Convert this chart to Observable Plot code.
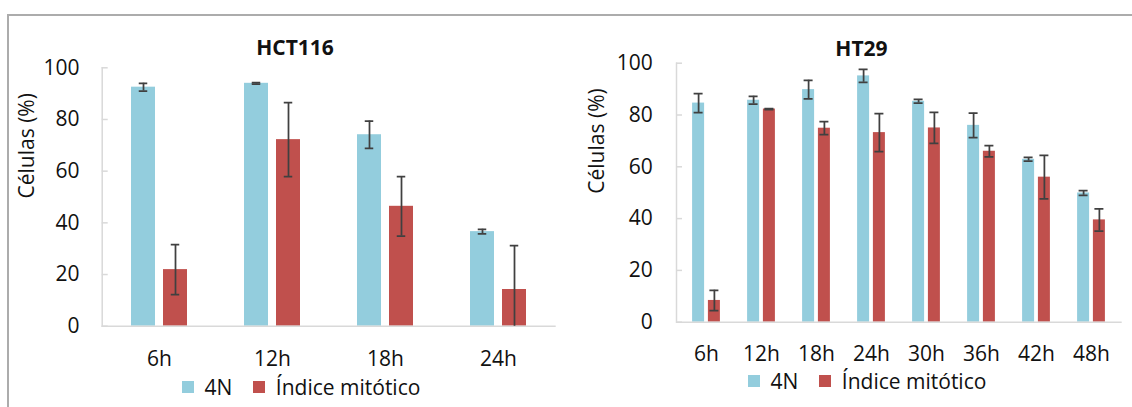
<!DOCTYPE html>
<html><head><meta charset="utf-8">
<script src="https://cdn.jsdelivr.net/npm/d3@7"></script>
<script src="https://cdn.jsdelivr.net/npm/@observablehq/plot@0.6"></script>
<style>
html,body{margin:0;padding:0;background:#fff;}
#wrap{position:relative;width:1132px;height:407px;overflow:hidden;font-family:"Open Sans",sans-serif;}
#border{position:absolute;left:7px;top:14px;width:1200px;height:500px;border-top:2px solid #acacac;border-left:2px solid #acacac;}
.panel{position:absolute;top:0;}
.legend{position:absolute;}
</style></head><body>
<div id="wrap"><div id="border"></div>
<div id="p1" class="panel" style="left:0px"></div>
<div id="p2" class="panel" style="left:566px"></div>
<div id="l1" class="legend" style="left:182px;top:370px"></div>
<div id="l2" class="legend" style="left:748px;top:364px"></div>
</div>
<script>
// ---- data ----
const series = ["4N", "Índice mitótico"];
const colors = ["#93cddd", "#c0504d"];
const yTicks = [0, 20, 40, 60, 80, 100];

const hctTimes = ["6h", "12h", "18h", "24h"];
const hct4N = [92.5, 94.0, 74.1, 36.6];
const hct4NErr = [1.5, 0.3, 5.3, 0.9];
const hctMit = [21.9, 72.2, 46.4, 14.2];
const hctMitErr = [9.7, 14.3, 11.5, 17.0];

const htTimes = ["6h", "12h", "18h", "24h", "30h", "36h", "42h", "48h"];
const ht4N = [84.6, 85.7, 89.8, 95.1, 85.3, 76.0, 62.9, 49.9];
const ht4NErr = [3.7, 1.5, 3.6, 2.5, 0.7, 4.7, 0.7, 0.9];
const htMit = [8.4, 82.3, 74.9, 73.2, 75.0, 66.0, 56.0, 39.5];
const htMitErr = [3.9, 0.2, 2.5, 7.3, 6.0, 2.2, 8.4, 4.3];

function rows(times, vals, errs, s) {
  return times.map((t, i) => ({time: t, series: s, value: vals[i], lo: vals[i] - errs[i], hi: vals[i] + errs[i]}));
}

function chart(o) {
  const r4 = rows(o.times, o.v4n, o.e4n, series[0]);
  const rm = rows(o.times, o.vmit, o.emit, series[1]);
  const plotW = o.width - o.mL - o.mR;
  const step = plotW / o.times.length;
  const pi = 1 - o.barW / step;
  const capInset = (o.barW - 9) / 2;
  const eb = (data, dx) => [
    Plot.ruleX(data, {x: "time", y1: "lo", y2: "hi", dx, stroke: "#404040", strokeWidth: 1.75, clip: true}),
    Plot.tickY(data, {x: "time", y: "hi", dx, insetLeft: capInset, insetRight: capInset, stroke: "#404040", strokeWidth: 1.75, clip: true}),
    Plot.tickY(data, {x: "time", y: "lo", dx, insetLeft: capInset, insetRight: capInset, stroke: "#404040", strokeWidth: 1.75, clip: true})
  ];
  return Plot.plot({
    width: o.width, height: 407,
    marginLeft: o.mL, marginRight: o.mR, marginTop: o.mT, marginBottom: o.mB,
    style: {fontFamily: '"Open Sans", sans-serif', fontSize: "21px", color: "#111", background: "transparent", overflow: "visible"},
    x: {domain: o.times, paddingInner: pi, paddingOuter: pi / 2, align: 0.5},
    y: {domain: [0, 100]},
    color: {domain: series, range: colors},
    marks: [
      Plot.barY(r4, {x: "time", y: "value", fill: "series", dx: -o.off}),
      Plot.barY(rm, {x: "time", y: "value", fill: "series", dx: o.off}),
      Plot.ruleY([0], {stroke: "#d9d9d9", strokeWidth: 1.5}),
      Plot.frame({anchor: "left", stroke: "#d9d9d9", strokeWidth: 1.5}),
      Plot.ruleY(yTicks, {stroke: "#d9d9d9", strokeWidth: 1.5, insetRight: plotW - 6}),
      ...eb(r4, -o.off),
      ...eb(rm, o.off),
      Plot.axisY({ticks: yTicks, tickSize: 0, tickPadding: o.yPad, fontSize: 21, label: null}),
      Plot.axisX({tickSize: 0, tickPadding: o.xPad, fontSize: 21, label: null}),
      Plot.text([o.title], {text: d => d, frameAnchor: "top", dx: o.tDx, dy: o.tDy, fontWeight: "bold", fontSize: 21, lineAnchor: "middle"}),
      Plot.text(["Células (%)"], {text: d => d, frameAnchor: "left", rotate: -90, dx: o.yDx, dy: o.yDy, fontSize: 21, lineAnchor: "middle"})
    ]
  });
}

document.getElementById("p1").append(chart({
  times: hctTimes, v4n: hct4N, e4n: hct4NErr, vmit: hctMit, emit: hctMitErr, title: "HCT116",
  width: 566, mL: 101.7, mR: 10.3, mT: 67.3, mB: 81.3, barW: 24.5, off: 16,
  yPad: 22.7, xPad: 25, tDx: -34.2, tDy: -19.3, yDx: -74.7, yDy: 1.5
}));
document.getElementById("p2").append(chart({
  times: htTimes, v4n: ht4N, e4n: ht4NErr, vmit: htMit, emit: htMitErr, title: "HT29",
  width: 566, mL: 110, mR: 10.3, mT: 62.7, mB: 85.3, barW: 12, off: 7.9,
  yPad: 23.7, xPad: 24, tDx: -37.9, tDy: -14.2, yDx: -79.2, yDy: 1
}));

const legendStyle = {fontFamily: '"Open Sans", sans-serif', fontSize: "21px", color: "#111", margin: "0", background: "transparent"};
for (const id of ["l1", "l2"]) {
  document.getElementById(id).append(Plot.legend({
    color: {type: "ordinal", domain: series, range: colors},
    legend: "swatches", swatchSize: 12, style: legendStyle
  }));
}
</script>
</body></html>
